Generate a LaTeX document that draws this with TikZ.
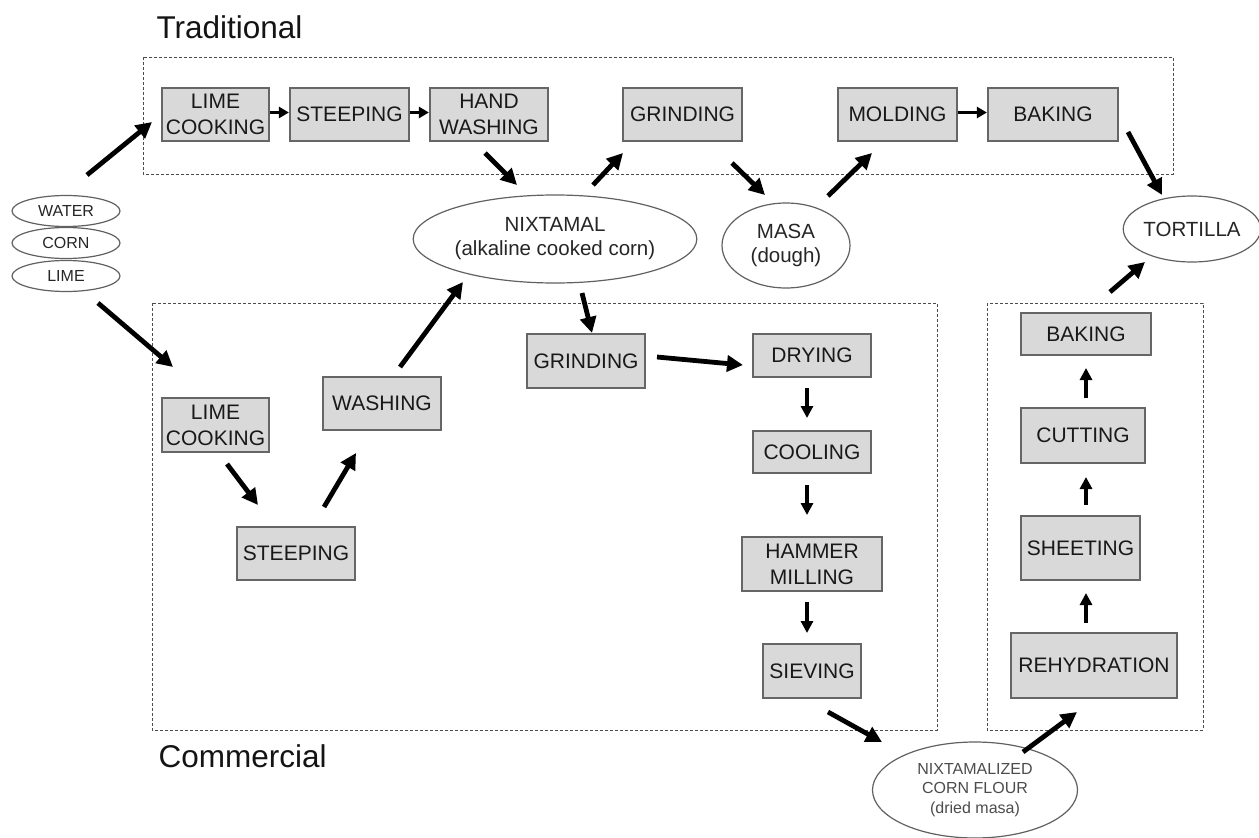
\documentclass[tikz,border=0pt]{standalone}
\usepackage{fontspec}
\setmainfont{Liberation Sans}
\usetikzlibrary{arrows.meta,shapes.geometric}
\begin{document}
\begin{tikzpicture}[x=1pt,y=-1pt,
  procbox/.style={draw=black!60,fill=black!15,line width=2.2pt,inner sep=0pt,align=center,
     text=black!90,font=\fontsize{21}{26}\selectfont},
  oval/.style={ellipse,draw=black!62,fill=white,line width=1.2pt,inner sep=0pt,align=center,text=black!85},
  frame/.style={draw=black!70,line width=1pt,dash pattern=on 3pt off 2pt},
  bigarr/.style={line width=4.8pt,-{Triangle[length=16pt,width=16pt]}},
  midarr/.style={line width=3.6pt,-{Triangle[length=12pt,width=12pt]}},
  smallarr/.style={line width=3.2pt,-{Triangle[length=10pt,width=11pt]}},
  title/.style={anchor=base west,font=\fontsize{31.5}{36}\selectfont,text=black!92}]
\useasboundingbox[fill=white] (0,0) rectangle (1259,838);

% frames
\draw[frame] (143,57) rectangle (1173,174);
\draw[frame] (152,303) rectangle (937,730);
\draw[frame] (987,303) rectangle (1203,730);
\node[title] (tTrad) at (153,38) {Traditional};
\node[title] (tComm) at (155,767) {Commercial};

% inputs
\node[oval,minimum width=108pt,minimum height=31pt,font=\fontsize{16}{18}\selectfont] (water) at (66,211) {WATER};
\node[oval,minimum width=108pt,minimum height=31pt,font=\fontsize{16}{18}\selectfont] (corn) at (66,243) {CORN};
\node[oval,minimum width=108pt,minimum height=31pt,font=\fontsize{16}{18}\selectfont] (lime) at (66,276) {LIME};

% traditional row
\node[procbox,minimum width=107pt,minimum height=53pt] (lcT) at (215.5,114.5) {LIME\\COOKING};
\node[procbox,minimum width=119pt,minimum height=53pt] (stT) at (349.5,114.5) {STEEPING};
\node[procbox,minimum width=118pt,minimum height=53pt] (hwT) at (489,114.5) {HAND\\WASHING};
\node[procbox,minimum width=119pt,minimum height=53pt] (grT) at (682.5,114.5) {GRINDING};
\node[procbox,minimum width=119pt,minimum height=53pt] (moT) at (897.5,114.5) {MOLDING};
\node[procbox,minimum width=130pt,minimum height=53pt] (baT) at (1053,114.5) {BAKING};

% ellipses
\node[oval,minimum width=270pt,minimum height=88pt,font=\fontsize{20.5}{24}\selectfont] (nix) at (555,239) {NIXTAMAL\\(alkaline cooked corn)};
\node[oval,minimum width=128pt,minimum height=85pt,font=\fontsize{20.5}{24}\selectfont] (masa) at (786,245.5) {MASA\\(dough)};
\node[oval,minimum width=130pt,minimum height=66pt,font=\fontsize{20.5}{24}\selectfont] (tort) at (1192,229) {TORTILLA};
\node[oval,minimum width=205pt,minimum height=96pt,font=\fontsize{16}{19.5}\selectfont,text=black!70] (ncf) at (975,790) {NIXTAMALIZED\\CORN FLOUR\\(dried masa)};

% commercial
\node[procbox,minimum width=107pt,minimum height=54pt] (lcC) at (215.5,425) {LIME\\COOKING};
\node[procbox,minimum width=118pt,minimum height=53pt] (stC) at (296,553.5) {STEEPING};
\node[procbox,minimum width=118pt,minimum height=53pt] (waC) at (382,403.5) {WASHING};
\node[procbox,minimum width=118pt,minimum height=54pt] (grC) at (586,361) {GRINDING};
\node[procbox,minimum width=118pt,minimum height=43pt] (drC) at (812,355.5) {DRYING};
\node[procbox,minimum width=118pt,minimum height=42pt] (coC) at (812,452) {COOLING};
\node[procbox,minimum width=140pt,minimum height=54pt] (hmC) at (812,564) {HAMMER\\MILLING};
\node[procbox,minimum width=98pt,minimum height=54pt] (svC) at (812,671) {SIEVING};

% right column
\node[procbox,minimum width=130pt,minimum height=42pt] (baR) at (1086,334) {BAKING};
\node[procbox,minimum width=124pt,minimum height=55pt] (cuR) at (1083,435.5) {CUTTING};
\node[procbox,minimum width=119pt,minimum height=64pt] (shR) at (1080.5,548) {SHEETING};
\node[procbox,minimum width=166pt,minimum height=65pt] (reR) at (1094,665.5) {REHYDRATION};

% traditional arrows
\draw[bigarr] ([shift={(21,-36)}]water.center) -- ([shift={(-63.5,7.5)}]lcT.center);
\draw[smallarr] ([yshift=2pt]lcT.east) -- ([yshift=2pt]stT.west);
\draw[smallarr] ([yshift=2pt]stT.east) -- ([yshift=2pt]hwT.west);
\draw[smallarr] ([yshift=2pt]moT.east) -- ([yshift=2pt]baT.west);
\draw[bigarr] ([shift={(-4,38.5)}]hwT.center) -- ([shift={(-38,-54)}]nix.center);
\draw[bigarr] ([shift={(38,-54)}]nix.center) -- ([shift={(-59.5,38.5)}]grT.center);
\draw[bigarr] ([shift={(49.5,48.5)}]grT.center) -- ([shift={(-21,-50.5)}]masa.center);
\draw[bigarr] ([shift={(42,-49.5)}]masa.center) -- ([shift={(-25.5,38.5)}]moT.center);
\draw[bigarr] ([shift={(75,17.5)}]baT.center) -- ([shift={(-30,-34)}]tort.center);

% commercial arrows
\draw[bigarr] ([shift={(32,27)}]lime.center) -- ([shift={(-42.5,-58)}]lcC.center);
\draw[bigarr] ([shift={(11.5,39)}]lcC.center) -- ([shift={(-38,-48.5)}]stC.center);
\draw[bigarr] ([shift={(28,-46.5)}]stC.center) -- ([shift={(-26,49.5)}]waC.center);
\draw[bigarr] ([shift={(18,-36.5)}]waC.center) -- ([shift={(-92,43)}]nix.center);
\draw[bigarr] ([shift={(27,54)}]nix.center) -- ([shift={(6,-28)}]grC.center);
\draw[bigarr] ([shift={(71,-4)}]grC.center) -- ([shift={(-69,9.5)}]drC.center);
\draw[midarr] ([shift={(-5,32.5)}]drC.center) -- ([shift={(-5,-34)}]coC.center);
\draw[midarr] ([shift={(-5,33)}]coC.center) -- ([shift={(-5,-49)}]hmC.center);
\draw[midarr] ([shift={(-5,38)}]hmC.center) -- ([shift={(-5,-38)}]svC.center);
\draw[bigarr] ([shift={(16,41)}]svC.center) -- ([shift={(-93,-48)}]ncf.center);

% right arrows
\draw[bigarr] ([shift={(48,-38)}]ncf.center) -- ([shift={(-17,46.5)}]reR.center);
\draw[midarr] ([shift={(-8,-42.5)}]reR.center) -- ([shift={(5.5,45)}]shR.center);
\draw[midarr] ([shift={(5.5,-43)}]shR.center) -- ([shift={(3,41.5)}]cuR.center);
\draw[midarr] ([shift={(3,-37.5)}]cuR.center) -- ([shift={(0,34)}]baR.center);
\draw[bigarr] ([shift={(24,-42)}]baR.center) -- ([shift={(-47,33)}]tort.center);
\end{tikzpicture}
\end{document}
